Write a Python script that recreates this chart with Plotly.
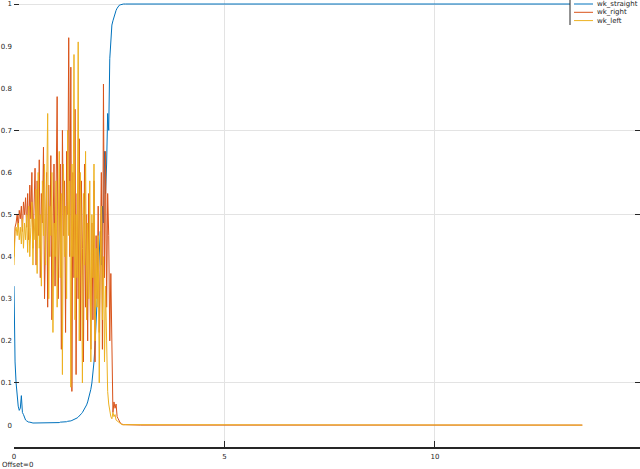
import numpy as np
import plotly.graph_objects as go

# sample grid of the active part (s), then a flat tail
T_STEP = 0.025
T_ACTIVE = np.round(np.arange(0, 105) * T_STEP, 3)
T_TAIL = [2.65, 2.8, 3.0, 13.5]

wk_straight = [
    0.33, 0.15, 0.10, 0.06, 0.045, 0.035, 0.04, 0.07, 0.03, 0.025,
    0.018, 0.012, 0.01, 0.008, 0.007, 0.007, 0.006, 0.006, 0.005, 0.005,
    0.005, 0.005, 0.005, 0.005, 0.005, 0.005, 0.005, 0.005, 0.005, 0.005,
    0.005, 0.005, 0.005, 0.005, 0.005, 0.005, 0.005, 0.005, 0.005, 0.006,
    0.006, 0.006, 0.006, 0.006, 0.007, 0.007, 0.007, 0.007, 0.008, 0.008,
    0.008, 0.009, 0.009, 0.010, 0.010, 0.011, 0.012, 0.013, 0.014, 0.015,
    0.017, 0.019, 0.021, 0.024, 0.027, 0.030, 0.034, 0.038, 0.043, 0.048,
    0.055, 0.063, 0.072, 0.085, 0.10, 0.12, 0.15, 0.19, 0.24, 0.29,
    0.34, 0.40, 0.46, 0.38, 0.52, 0.48, 0.65, 0.55, 0.62, 0.74,
    0.70, 0.87, 0.93, 0.95, 0.96, 0.97, 0.98, 0.985, 0.99, 0.995,
    0.997, 0.998, 0.999, 1.0, 1.0,
]
wk_right = [
    0.40, 0.47, 0.48, 0.50, 0.47, 0.51, 0.49, 0.52, 0.46, 0.53,
    0.50, 0.54, 0.47, 0.55, 0.44, 0.57, 0.49, 0.60, 0.42, 0.56,
    0.61, 0.38, 0.58, 0.45, 0.63, 0.35, 0.55, 0.48, 0.66, 0.30,
    0.52, 0.60, 0.28, 0.57, 0.40, 0.64, 0.25, 0.50, 0.62, 0.33,
    0.55, 0.78, 0.30, 0.48, 0.62, 0.18, 0.70, 0.45, 0.58, 0.22,
    0.65, 0.50, 0.92, 0.40, 0.85, 0.08, 0.60, 0.35, 0.75, 0.12,
    0.55, 0.30, 0.68, 0.20, 0.58, 0.42, 0.15, 0.62, 0.28, 0.50,
    0.20, 0.55, 0.35, 0.18, 0.48, 0.25, 0.58, 0.15, 0.45, 0.30,
    0.52, 0.22, 0.40, 0.60, 0.18, 0.81, 0.35, 0.65, 0.28, 0.55,
    0.45, 0.20, 0.36, 0.12, 0.03, 0.055, 0.04, 0.05, 0.02, 0.015,
    0.008, 0.005, 0.003, 0.002, 0.001,
]
wk_left = [
    0.38, 0.46, 0.47, 0.45, 0.48, 0.44, 0.47, 0.43, 0.49, 0.42,
    0.48, 0.44, 0.50, 0.41, 0.52, 0.40, 0.47, 0.53, 0.38, 0.49,
    0.44, 0.56, 0.36, 0.60, 0.42, 0.50, 0.33, 0.58, 0.45, 0.62,
    0.38, 0.55, 0.74, 0.30, 0.52, 0.45, 0.60, 0.22, 0.48, 0.40,
    0.58, 0.28, 0.50, 0.65, 0.35, 0.55, 0.12, 0.62, 0.40, 0.52,
    0.30, 0.70, 0.45, 0.58, 0.09, 0.62, 0.40, 0.88, 0.25, 0.50,
    0.35, 0.91, 0.20, 0.60, 0.45, 0.10, 0.55, 0.38, 0.65, 0.25,
    0.48, 0.30, 0.58, 0.15, 0.50, 0.35, 0.62, 0.20, 0.42, 0.28,
    0.45, 0.10, 0.38, 0.52, 0.25, 0.40, 0.15, 0.33, 0.20, 0.08,
    0.05, 0.03, 0.02, 0.015, 0.03, 0.02, 0.025, 0.012, 0.01, 0.006,
    0.004, 0.003, 0.002, 0.001, 0.001,
]
tail_straight = [1.0, 1.0, 1.0, 1.0]
tail_right = [0.001, 0.0005, 0.0, 0.0]
tail_left = [0.001, 0.0005, 0.0, 0.0]

Y_TICKS = [0, 0.1, 0.2, 0.3, 0.4, 0.5, 0.6, 0.7, 0.8, 0.9, 1]
Y_TICK_TEXT = ["0", "0.1", "0.2", "0.3", "0.4", "0.5", "0.6", "0.7", "0.8", "0.9", "1"]
Y_GRID = [0.1, 0.5, 0.7, 1]
X_TICKS = [0, 5, 10]
X_GRID = [5, 10]

W, H = 640, 469
ML, MR, MT, MB = 14, 0, 0, 22
PW, PH = W - ML - MR, H - MT - MB


def px_x(p):
    return (p - ML) / PW


def px_y(p):
    return (PH + MT - p) / PH


x_all = list(T_ACTIVE) + T_TAIL
series = [
    ("wk_straight", wk_straight + tail_straight, "#0072BD"),
    ("wk_right", wk_right + tail_right, "#D95319"),
    ("wk_left", wk_left + tail_left, "#EDB120"),
]

fig = go.Figure()
for name, vals, col in series:
    fig.add_trace(
        go.Scatter(x=x_all, y=vals, mode="lines", name=name,
                   line=dict(color=col, width=1))
    )

x_range = [0, 14.87]
y_range = [-0.052, 1.0095]

fig.update_layout(
    width=W,
    height=H,
    margin=dict(l=ML, r=MR, t=MT, b=MB, autoexpand=False),
    plot_bgcolor="white",
    paper_bgcolor="white",
    font=dict(family="DejaVu Sans", size=7, color="#262626"),
    showlegend=False,
    xaxis=dict(
        range=x_range, tickvals=X_TICKS, ticktext=[str(v) for v in X_TICKS],
        showgrid=False, zeroline=False, showline=True, linecolor="#262626",
        linewidth=1.5, ticks="", ticklabelstandoff=2, automargin=False,
    ),
    xaxis2=dict(
        range=x_range, overlaying="x", matches="x", tickvals=X_GRID,
        showgrid=True, gridcolor="#e3e3e3", gridwidth=1, zeroline=False,
        showticklabels=False, ticks="inside", ticklen=6, tickcolor="#262626",
        automargin=False,
    ),
    yaxis=dict(
        range=y_range, tickvals=Y_TICKS, ticktext=Y_TICK_TEXT,
        showgrid=False, zeroline=False, showline=False, ticks="",
        ticklabelstandoff=1, automargin=False,
    ),
    yaxis2=dict(
        range=y_range, overlaying="y", tickvals=Y_GRID, showgrid=True,
        gridcolor="#e3e3e3", gridwidth=1, zeroline=False,
        showticklabels=False, ticks="inside", ticklen=5,
        tickcolor="#262626", mirror="ticks", showline=False, automargin=False,
    ),
)

# invisible helper trace so the grid axes get drawn
fig.add_trace(go.Scatter(x=[None], y=[None], xaxis="x2", yaxis="y2",
                         showlegend=False, hoverinfo="skip"))

# compact legend in the top right corner (MATLAB style)
fig.add_shape(type="rect", xref="paper", yref="paper",
              x0=px_x(570), x1=px_x(645), y0=px_y(25), y1=px_y(-5),
              line=dict(color="white", width=0), fillcolor="white")
fig.add_shape(type="line", xref="paper", yref="paper",
              x0=px_x(570), x1=px_x(570), y0=px_y(25), y1=px_y(0),
              line=dict(color="#262626", width=1))
for i, (name, _, col) in enumerate(series):
    yy = px_y(4 + 8.3 * i)
    fig.add_shape(type="line", xref="paper", yref="paper",
                  x0=px_x(574), x1=px_x(593), y0=yy, y1=yy,
                  line=dict(color=col, width=1))
    fig.add_annotation(text=name, xref="paper", yref="paper",
                       x=px_x(595), y=yy, xanchor="left", yanchor="middle",
                       showarrow=False, font=dict(size=7, color="#262626"))

fig.add_annotation(
    text="Offset=0", xref="paper", yref="paper", x=px_x(0), y=px_y(465),
    xanchor="left", yanchor="middle", showarrow=False,
    font=dict(size=7, color="#262626"),
)

fig.write_html("out.html", config={"displayModeBar": False},
               post_script="document.body.style.margin='0';")
